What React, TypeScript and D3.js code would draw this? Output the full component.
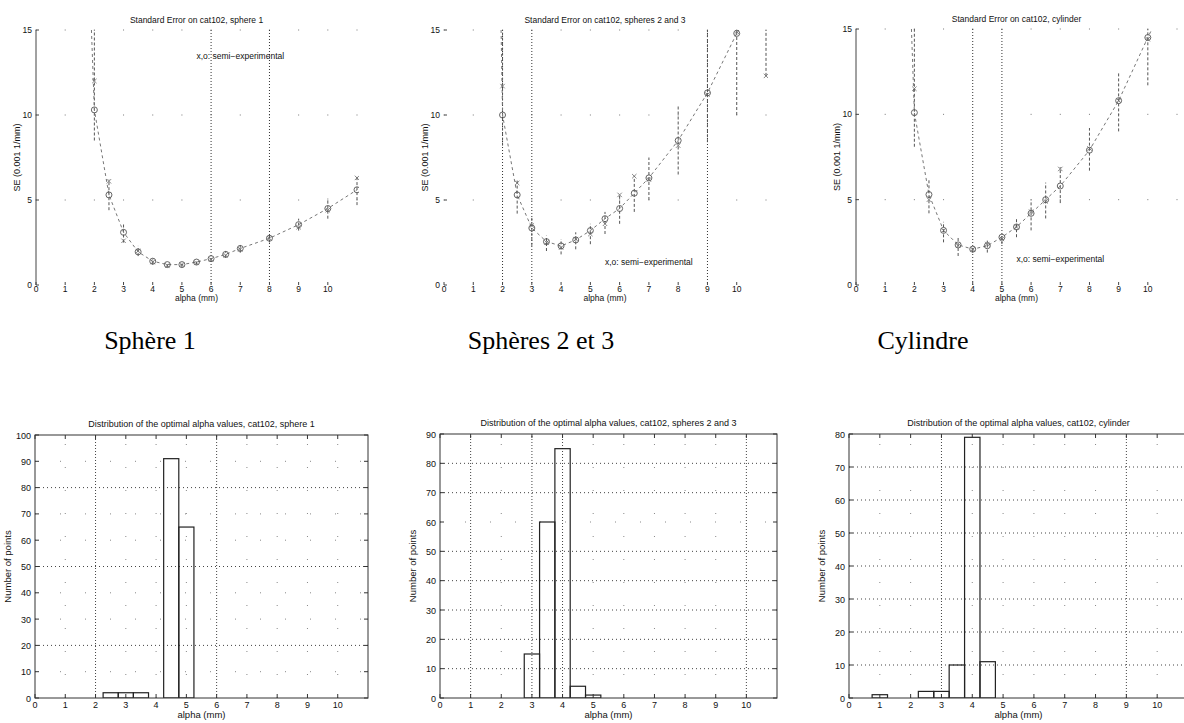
import React from 'react';
import * as d3 from 'd3';

// ---------- DATA ----------
const alphaTicks = [0, 1, 2, 3, 4, 5, 6, 7, 8, 9, 10];
const seTicks = [0, 5, 10, 15];

// Sphere 1 standard error
const s1Alpha = [2, 2.5, 3, 3.5, 4, 4.5, 5, 5.5, 6, 6.5, 7, 8, 9, 10, 11];
const s1Circle = [10.3, 5.3, 3.1, 1.95, 1.4, 1.2, 1.2, 1.35, 1.55, 1.8, 2.15, 2.75, 3.55, 4.5, 5.6];
const s1Cross = [12.0, 6.1, 2.6, 2.0, 1.35, 1.15, 1.2, 1.3, 1.5, 1.75, 2.1, 2.75, 3.4, 4.4, 6.3];
const s1Low = [8.5, 4.4, 2.5, 1.7, 1.2, 1.05, 1.05, 1.2, 1.4, 1.6, 1.9, 2.5, 3.2, 3.9, 4.7];
const s1High = [15, 6.2, 3.6, 2.3, 1.55, 1.3, 1.35, 1.5, 1.7, 2.0, 2.35, 3.0, 3.9, 5.1, 6.4];
const s1CurveStart = [1.9, 15];
const s1CurveEnd = [11, 5.6];

// Spheres 2 and 3 standard error
const s2Alpha = [2, 2.5, 3, 3.5, 4, 4.5, 5, 5.5, 6, 6.5, 7, 8, 9, 10, 11];
const s2Circle = [10.0, 5.3, 3.35, 2.55, 2.3, 2.65, 3.2, 3.9, 4.5, 5.4, 6.3, 8.5, 11.3, 14.8, 17.5];
const s2Cross = [11.7, 6.0, 3.5, 2.5, 2.2, 2.7, 3.0, 3.6, 5.3, 6.4, 6.2, 8.2, 11.2, 14.9, 12.3];
const s2Low = [8.2, 4.2, 2.3, 2.0, 1.8, 2.1, 2.4, 3.0, 3.6, 4.3, 5.0, 6.5, 8.4, 10.0, 12.3];
const s2High = [15, 6.2, 4.0, 2.9, 2.7, 3.1, 3.6, 4.3, 5.3, 6.4, 7.5, 10.5, 15, 15, 15];
const s2CurveStart = [1.95, 15];
const s2CurveEnd = [11, 17.5];

// Cylinder standard error
const s3Alpha = [2, 2.5, 3, 3.5, 4, 4.5, 5, 5.5, 6, 6.5, 7, 8, 9, 10];
const s3Circle = [10.1, 5.3, 3.2, 2.35, 2.1, 2.3, 2.8, 3.4, 4.2, 5.0, 5.8, 7.9, 10.8, 14.5];
const s3Cross = [11.5, 5.0, 3.2, 2.3, 2.1, 2.4, 2.7, 3.4, 4.3, 4.9, 6.8, 8.0, 10.8, 14.4];
const s3Low = [8.1, 4.2, 2.5, 1.7, 1.9, 1.9, 2.4, 2.8, 3.2, 3.9, 4.8, 6.7, 9.0, 11.7];
const s3High = [15, 6.2, 3.7, 2.8, 2.2, 2.6, 2.9, 3.9, 5.0, 6.0, 6.9, 9.2, 12.4, 15];
const s3CurveStart = [1.9, 15];
const s3CurveEnd = [10.2, 15.2];

// Histograms of optimal alpha (bin width 0.5)
const binWidth = 0.5;
const h1Centers = [2.5, 3, 3.5, 4.5, 5];
const h1Counts = [2, 2, 2, 91, 65];
const h2Centers = [3, 3.5, 4, 4.5, 5];
const h2Counts = [15, 60, 85, 4, 1];
const h3Centers = [1, 2.5, 3, 3.5, 4, 4.5];
const h3Counts = [1, 2, 2, 10, 79, 11];

const h1Ticks = [0, 10, 20, 30, 40, 50, 60, 70, 80, 90, 100];
const h2Ticks = [0, 10, 20, 30, 40, 50, 60, 70, 80, 90];
const h3Ticks = [0, 10, 20, 30, 40, 50, 60, 70, 80];

const seTitles = [
  'Standard Error on cat102, sphere 1',
  'Standard Error on cat102, spheres 2 and 3',
  'Standard Error on cat102, cylinder',
];
const histTitles = [
  'Distribution of the optimal alpha values, cat102, sphere 1',
  'Distribution of the optimal alpha values, cat102, spheres 2 and 3',
  'Distribution of the optimal alpha values, cat102, cylinder',
];
const captions = ['Sphère 1', 'Sphères 2 et 3', 'Cylindre'];
const noteText = 'x,o: semi\u2212experimental';

const SANS = 'Liberation Sans, Arial, Helvetica, sans-serif';
const SERIF = 'Liberation Serif, Times New Roman, serif';

type SeProps = {
  id: string;
  title: string;
  alpha: number[];
  circle: number[];
  cross: number[];
  low: number[];
  high: number[];
  curveStart: number[];
  curveEnd: number[];
  guides: number[];
  note: number[];
  left: number;
  right: number;
  top: number;
  bottom: number;
  axisLine: boolean;
};

function SePanel(p: SeProps) {
  const x = d3.scaleLinear().domain([0, 11]).range([p.left, p.right]);
  const y = d3.scaleLinear().domain([0, 15]).range([p.bottom, p.top]);
  const pts: [number, number][] = [
    [p.curveStart[0], p.curveStart[1]],
    ...p.alpha.map((a, i) => [a, p.circle[i]] as [number, number]),
  ];
  if (p.curveEnd[0] > p.alpha[p.alpha.length - 1]) pts.push([p.curveEnd[0], p.curveEnd[1]]);
  const line = d3.line<[number, number]>().x(d => x(d[0])).y(d => y(d[1])).curve(d3.curveLinear);
  const gridX = d3.range(0, 12);
  const cx = (x(0) + x(11)) / 2;
  return (
    <g>
      <defs>
        <clipPath id={p.id}>
          <rect x={p.left - 2} y={p.top} width={p.right - p.left + 4} height={p.bottom - p.top} />
        </clipPath>
      </defs>
      <text x={cx} y={p.top - 7} fontSize={8.5} fontFamily={SANS} textAnchor="middle" fill="#111">{p.title}</text>
      {gridX.map(gx => seTicks.slice(1).map(gy => (
        <rect key={`g${gx}-${gy}`} x={x(gx) - 0.5} y={y(gy) - 0.5} width={1} height={1} fill="#777" />
      )))}
      {p.guides.map(g => (
        <line key={`gd${g}`} x1={x(g)} x2={x(g)} y1={y(15)} y2={y(0)} stroke="#333" strokeWidth={1} strokeDasharray="1,2" />
      ))}
      {p.axisLine && <line x1={x(0)} x2={x(0)} y1={y(0)} y2={y(15)} stroke="#444" strokeWidth={1} />}
      {alphaTicks.map(t => (
        <line key={`xt${t}`} x1={x(t)} x2={x(t)} y1={y(0)} y2={y(0) - 3} stroke="#444" strokeWidth={1} />
      ))}
      {seTicks.map(t => (
        <line key={`yt${t}`} x1={x(0)} x2={x(0) + 3} y1={y(t)} y2={y(t)} stroke="#444" strokeWidth={1} />
      ))}
      {alphaTicks.map(t => (
        <text key={`xl${t}`} x={x(t)} y={y(0) + 7} fontSize={8.5} fontFamily={SANS} textAnchor="middle" fill="#111">{t}</text>
      ))}
      {seTicks.map(t => (
        <text key={`yl${t}`} x={x(0) - 4} y={y(t) + 3} fontSize={8.5} fontFamily={SANS} textAnchor="end" fill="#111">{t}</text>
      ))}
      <text x={cx} y={y(0) + 16} fontSize={8.5} fontFamily={SANS} textAnchor="middle" fill="#111">alpha (mm)</text>
      <text transform={`translate(${x(0) - 16},${(p.top + p.bottom) / 2}) rotate(-90)`} fontSize={9} fontFamily={SANS} textAnchor="middle" fill="#111">SE (0.001 1/mm)</text>
      <g clipPath={`url(#${p.id})`}>
        {p.alpha.map((a, i) => (
          <line key={`eb${i}`} x1={x(a)} x2={x(a)} y1={y(p.low[i])} y2={y(p.high[i])} stroke="#555" strokeWidth={1} strokeDasharray="3,2" />
        ))}
        <path d={line(pts) || ''} fill="none" stroke="#777" strokeWidth={1} strokeDasharray="3,3" />
        {p.alpha.map((a, i) => (
          <circle key={`c${i}`} cx={x(a)} cy={y(p.circle[i])} r={3} fill="none" stroke="#555" strokeWidth={0.9} />
        ))}
        {p.alpha.map((a, i) => {
          const px = x(a), py = y(p.cross[i]), s = 2.2;
          return (
            <path key={`x${i}`} d={`M${px - s},${py - s}L${px + s},${py + s}M${px - s},${py + s}L${px + s},${py - s}`} stroke="#666" strokeWidth={0.8} fill="none" />
          );
        })}
      </g>
      <text x={x(p.note[0])} y={y(p.note[1]) + 3} fontSize={8.5} fontFamily={SANS} fill="#111">{noteText}</text>
    </g>
  );
}

type HistProps = {
  id: string;
  title: string;
  centers: number[];
  counts: number[];
  yTicks: number[];
  strongX: number[];
  strongY: number[];
  left: number;
  right: number;
  top: number;
  bottom: number;
};

function HistPanel(p: HistProps) {
  const ymax = p.yTicks[p.yTicks.length - 1];
  const x = d3.scaleLinear().domain([0, 11]).range([p.left, p.right]);
  const y = d3.scaleLinear().domain([0, ymax]).range([p.bottom, p.top]);
  const cx = (p.left + p.right) / 2;
  return (
    <g>
      <defs>
        <clipPath id={p.id}>
          <rect x={p.left} y={p.top} width={p.right - p.left} height={p.bottom - p.top} />
        </clipPath>
      </defs>
      <text x={cx} y={p.top - 8} fontSize={9} fontFamily={SANS} textAnchor="middle" fill="#111">{p.title}</text>
      <g clipPath={`url(#${p.id})`}>
        {alphaTicks.slice(1).map(t => (
          <line key={`gx${t}`} x1={x(t)} x2={x(t)} y1={p.bottom} y2={p.top} stroke={p.strongX.includes(t) ? '#444' : '#888'} strokeWidth={1} strokeDasharray={p.strongX.includes(t) ? '1,2' : '1,22'} />
        ))}
        {p.yTicks.slice(1, -1).map(t => (
          <line key={`gy${t}`} x1={p.left} x2={p.right} y1={y(t)} y2={y(t)} stroke={p.strongY.includes(t) ? '#444' : '#888'} strokeWidth={1} strokeDasharray={p.strongY.includes(t) ? '1,3' : '1,24'} />
        ))}
        {p.centers.map((c, i) => (
          <rect key={`b${i}`} x={x(c - binWidth / 2)} y={y(p.counts[i])} width={x(c + binWidth / 2) - x(c - binWidth / 2)} height={p.bottom - y(p.counts[i])} fill="none" stroke="#222" strokeWidth={1.2} />
        ))}
      </g>
      <rect x={p.left} y={p.top} width={p.right - p.left} height={p.bottom - p.top} fill="none" stroke="#333" strokeWidth={1} />
      {alphaTicks.map(t => (
        <g key={`xt${t}`}>
          <line x1={x(t)} x2={x(t)} y1={p.bottom} y2={p.bottom - 4} stroke="#333" />
          <line x1={x(t)} x2={x(t)} y1={p.top} y2={p.top + 4} stroke="#333" />
          <text x={x(t)} y={p.bottom + 10} fontSize={9} fontFamily={SANS} textAnchor="middle" fill="#111">{t}</text>
        </g>
      ))}
      {p.yTicks.map(t => (
        <g key={`yt${t}`}>
          <line x1={p.left} x2={p.left + 4} y1={y(t)} y2={y(t)} stroke="#333" />
          <line x1={p.right} x2={p.right - 4} y1={y(t)} y2={y(t)} stroke="#333" />
          <text x={p.left - 4} y={y(t) + 3.5} fontSize={9} fontFamily={SANS} textAnchor="end" fill="#111">{t}</text>
        </g>
      ))}
      <text x={cx} y={p.bottom + 20} fontSize={9.5} fontFamily={SANS} textAnchor="middle" fill="#111">alpha (mm)</text>
      <text transform={`translate(${p.left - 24},${(p.top + p.bottom) / 2}) rotate(-90)`} fontSize={9.5} fontFamily={SANS} textAnchor="middle" fill="#111">Number of points</text>
    </g>
  );
}

export default function App() {
  const W = 1184, H = 723;
  return (
    <svg width={W} height={H} style={{ position: 'absolute', left: 0, top: 0, background: '#fff' }}>
      <rect x={0} y={0} width={W} height={H} fill="#fff" />
      <SePanel id="se1" title={seTitles[0]} alpha={s1Alpha} circle={s1Circle} cross={s1Cross} low={s1Low} high={s1High}
        curveStart={s1CurveStart} curveEnd={s1CurveEnd} guides={[6, 8]} note={[5.5, 13.5]}
        left={36} right={357} top={30} bottom={285} axisLine={true} />
      <SePanel id="se2" title={seTitles[1]} alpha={s2Alpha} circle={s2Circle} cross={s2Cross} low={s2Low} high={s2High}
        curveStart={s2CurveStart} curveEnd={s2CurveEnd} guides={[2, 3, 9]} note={[5.5, 1.35]}
        left={444} right={766} top={30} bottom={285} axisLine={false} />
      <SePanel id="se3" title={seTitles[2]} alpha={s3Alpha} circle={s3Circle} cross={s3Cross} low={s3Low} high={s3High}
        curveStart={s3CurveStart} curveEnd={s3CurveEnd} guides={[4, 5]} note={[5.5, 1.5]}
        left={856} right={1177} top={29} bottom={285} axisLine={true} />

      <text x={150} y={349} fontSize={26} fontFamily={SERIF} textAnchor="middle" fill="#000">{captions[0]}</text>
      <text x={541} y={349} fontSize={26} fontFamily={SERIF} textAnchor="middle" fill="#000">{captions[1]}</text>
      <text x={923} y={349} fontSize={26} fontFamily={SERIF} textAnchor="middle" fill="#000">{captions[2]}</text>

      <HistPanel id="h1" title={histTitles[0]} centers={h1Centers} counts={h1Counts} yTicks={h1Ticks}
        strongX={[2, 6]} strongY={[20, 50, 80]} left={35} right={368} top={435} bottom={698} />
      <HistPanel id="h2" title={histTitles[1]} centers={h2Centers} counts={h2Counts} yTicks={h2Ticks}
        strongX={[1, 3, 4, 10]} strongY={[10, 20, 30, 40, 50, 70, 80]} left={440} right={777} top={434} bottom={698} />
      <HistPanel id="h3" title={histTitles[2]} centers={h3Centers} counts={h3Counts} yTicks={h3Ticks}
        strongX={[3, 9]} strongY={[10, 20, 30, 40, 50, 60, 70]} left={849} right={1188} top={434} bottom={698} />
    </svg>
  );
}
